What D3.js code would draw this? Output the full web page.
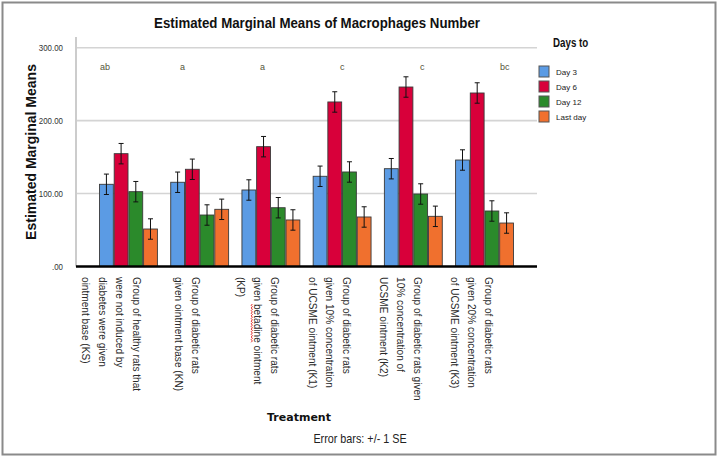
<!DOCTYPE html>
<html>
<head>
<meta charset="utf-8">
<script src="https://cdn.jsdelivr.net/npm/d3@7"></script>
<style>
  body { margin: 0; background: #fff; }
  svg { display: block; }
</style>
</head>
<body>
<div id="chart"></div>
<script>
// data
var groups = ["KS", "KN", "KP", "K1", "K2", "K3"];
var groupLabels = [
    ["Group of healthy rats that", "were not induced by", "diabetes were given", "ointment base (KS)"],
    ["Group of diabetic rats", "given ointment base (KN)"],
    ["Group of diabetic rats", "given betadine ointment", "(KP)"],
    ["Group of diabetic rats", "given 10% concentration", "of UCSME ointment (K1)"],
    ["Group of diabetic rats given", "10% concentration of", "UCSME ointment (K2)"],
    ["Group of diabetic rats", "given 20% concentration", "of UCSME ointment (K3)"]
];
var letters = ["ab", "a", "a", "c", "c", "bc"];
var series = ["Day 3", "Day 6", "Day 12", "Last day"];
var day3 = [112.7, 115.5, 104.9, 123.7, 134.1, 146.0];
var day6 = [154.7, 133.3, 164.3, 225.6, 246.1, 237.9];
var day12 = [102.6, 70.6, 80.6, 129.6, 99.4, 76.1];
var lastDay = [51.4, 78.4, 63.8, 67.9, 68.8, 59.6];
var se = [14, 14, 14, 14, 14, 14];
var yTicks = [0, 100, 200, 300];
var colors = ["#5b9be4", "#d8003a", "#2b8a2b", "#f0702e"];

var values = [day3, day6, day12, lastDay];

var width = 720, height = 459;
var sans = "Liberation Sans, Arial, sans-serif";
var svg = d3.select("#chart").append("svg")
    .attr("width", width).attr("height", height);

svg.append("rect")
    .attr("x", 2.5).attr("y", 2.5)
    .attr("width", 713).attr("height", 452)
    .attr("fill", "#fff").attr("stroke", "#8a8a8a").attr("stroke-width", 2);

var x0 = d3.scaleBand().domain(groups).range([76, 537])
    .paddingInner(0.187).paddingOuter(0.33);
var x1 = d3.scaleBand().domain(series).range([0, x0.bandwidth()]).paddingInner(0.06);
var y = d3.scaleLinear().domain([0, 300]).range([266.5, 47.7]);
// letters were typed in at even spacing, not on the bar groups
var xLetter = d3.scalePoint().domain(groups).range([100, 500]);

// condensed text: plain sans squeezed along the writing direction
function squeezed(parent, x, yy, rot, sx) {
    return parent.append("text")
        .attr("transform", "translate(" + x + "," + yy + ")" + (rot ? " rotate(" + rot + ")" : "") + " scale(" + sx + ",1)");
}

// grid
svg.append("g").selectAll("line")
    .data(yTicks.filter(function (d) { return d > 0; }))
    .enter().append("line")
    .attr("x1", 77).attr("x2", 537)
    .attr("y1", function (d) { return y(d); })
    .attr("y2", function (d) { return y(d); })
    .attr("stroke", "#d4d4d4").attr("stroke-width", 1.6);

// y tick labels
yTicks.forEach(function (d) {
    squeezed(svg, 63, y(d) + 3, 0, 0.88)
        .attr("text-anchor", "end")
        .attr("font-family", sans).attr("font-size", 9).attr("fill", "#333")
        .text(d === 0 ? ".00" : d3.format(".2f")(d));
});
svg.append("line")
    .attr("x1", 76).attr("x2", 76).attr("y1", 37).attr("y2", 266.5)
    .attr("stroke", "#999").attr("stroke-width", 1);

// bars
var grp = svg.append("g").selectAll("g")
    .data(groups)
    .enter().append("g")
    .attr("transform", function (d) { return "translate(" + x0(d) + ",0)"; });

grp.each(function (g, gi) {
    var sel = d3.select(this);
    series.forEach(function (s, si) {
        var v = values[si][gi];
        sel.append("rect")
            .attr("x", x1(s)).attr("y", y(v))
            .attr("width", x1.bandwidth()).attr("height", y(0) - y(v))
            .attr("fill", colors[si]).attr("stroke", "#3a3a3a").attr("stroke-width", 0.9);
        var cx = x1(s) + x1.bandwidth() / 2;
        var e = sel.append("g").attr("stroke", "#111").attr("stroke-width", 1);
        e.append("line").attr("x1", cx).attr("x2", cx)
            .attr("y1", y(v + se[gi])).attr("y2", y(v - se[gi]));
        e.append("line").attr("x1", cx - 2.5).attr("x2", cx + 2.5)
            .attr("y1", y(v + se[gi])).attr("y2", y(v + se[gi]));
        e.append("line").attr("x1", cx - 2.5).attr("x2", cx + 2.5)
            .attr("y1", y(v - se[gi])).attr("y2", y(v - se[gi]));
    });
});

// x axis line
svg.append("line")
    .attr("x1", 76).attr("x2", 537).attr("y1", 266.5).attr("y2", 266.5)
    .attr("stroke", "#000").attr("stroke-width", 2.5);

// significance letters
svg.append("g").selectAll("text")
    .data(letters)
    .enter().append("text")
    .attr("x", function (d, i) { return xLetter(groups[i]); })
    .attr("y", 70)
    .attr("font-family", sans)
    .attr("font-size", 9).attr("fill", "#55553a")
    .text(function (d) { return d; });

// x labels, rotated 90deg, lines stack leftwards
var lineH = 17;
groupLabels.forEach(function (lines, i) {
    var cx = x0(groups[i]) + x0.bandwidth() / 2 - 4;
    var first = cx + (lines.length - 1) * lineH / 2 - 4;
    if (i === 0) first -= 4;
    var t = squeezed(svg, first, 277, 90, 0.88)
        .attr("font-family", sans)
        .attr("font-size", 11.5).attr("fill", "#2a2a2a")
        .attr("dominant-baseline", "hanging");
    var pos = 0, mark = null;
    lines.forEach(function (ln, li) {
        t.append("tspan").attr("x", 0).attr("dy", li === 0 ? 0 : lineH).text(ln);
        var k = ln.indexOf("betadine");
        if (k >= 0) mark = { line: li, start: pos + k, n: 8, pre: k };
        pos += ln.length;
    });
    // spell-check squiggle under "betadine"
    if (mark) {
        var node = t.node();
        var x0m = node.getSubStringLength(mark.start - mark.pre, mark.pre);
        var len = node.getSubStringLength(mark.start, mark.n);
        var yy = mark.line * lineH + 10.5;
        var pts = [];
        for (var px = 0; px <= len; px += 1.5) {
            pts.push([x0m + px, yy + ((Math.round(px / 1.5) % 2) ? 1.2 : 0)]);
        }
        d3.select(node.parentNode).append("path")
            .attr("transform", t.attr("transform"))
            .attr("d", d3.line()(pts))
            .attr("fill", "none").attr("stroke", "#e02020").attr("stroke-width", 1);
    }
});

// title
squeezed(svg, 317, 28, 0, 0.885)
    .attr("text-anchor", "middle")
    .attr("font-family", sans)
    .attr("font-weight", "bold").attr("font-size", 15).attr("fill", "#111")
    .text("Estimated Marginal Means of Macrophages Number");

// y title
svg.append("text")
    .attr("transform", "translate(36,152) rotate(-90)")
    .attr("text-anchor", "middle")
    .attr("font-family", sans)
    .attr("font-weight", "bold").attr("font-size", 14).attr("fill", "#111")
    .text("Estimated Marginal Means");

// x title + note
svg.append("text")
    .attr("x", 299).attr("y", 421)
    .attr("text-anchor", "middle")
    .attr("font-family", "DejaVu Sans, sans-serif")
    .attr("font-weight", "bold").attr("font-size", 11).attr("fill", "#111")
    .text("Treatment");
squeezed(svg, 360, 443, 0, 0.9)
    .attr("text-anchor", "middle")
    .attr("font-family", sans)
    .attr("font-size", 12).attr("fill", "#222")
    .text("Error bars: +/- 1 SE");

// legend
var legend = svg.append("g");
squeezed(legend, 553, 47, 0, 0.75)
    .attr("font-family", sans)
    .attr("font-weight", "bold").attr("font-size", 13).attr("fill", "#111")
    .text("Days to");
var item = legend.selectAll("g.item")
    .data(series)
    .enter().append("g").attr("class", "item")
    .attr("transform", function (d, i) { return "translate(539," + (66 + i * 15) + ")"; });
item.append("rect")
    .attr("width", 10).attr("height", 11)
    .attr("fill", function (d, i) { return colors[i]; })
    .attr("stroke", "#555").attr("stroke-width", 1);
item.append("text")
    .attr("x", 17).attr("y", 8.5)
    .attr("font-family", sans)
    .attr("font-size", 8).attr("fill", "#222")
    .text(function (d) { return d; });
</script>
</body>
</html>
